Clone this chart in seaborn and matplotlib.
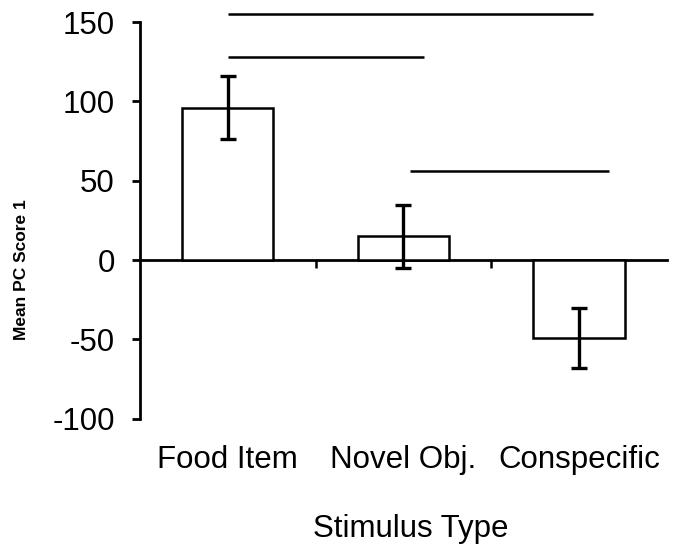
import pandas as pd
import matplotlib
matplotlib.use("Agg")
import matplotlib.pyplot as plt
import seaborn as sns

sns.set_style("white")
plt.rcParams['font.family'] = ['Liberation Sans', 'DejaVu Sans']
plt.rcParams['axes.unicode_minus'] = False
plt.rcParams['text.color'] = 'black'
plt.rcParams['axes.labelcolor'] = 'black'
plt.rcParams['xtick.color'] = 'black'
plt.rcParams['ytick.color'] = 'black'

# Dados
categories = ["Food Item", "Novel Obj.", "Conspecific"]
means = [96, 15, -49]
errors = [20, 20, 19]

# Linhas de significância (y, x inicial, x final em unidades de categoria)
sig_y = [155, 128, 56]
sig_start = [0.0, 0.0, 1.04]
sig_end = [2.08, 1.12, 2.17]

df = pd.DataFrame({"stimulus": categories, "score": means})

fig = plt.figure(figsize=(6.82, 5.51), dpi=100)
ax = fig.add_axes([0.205, 0.240, 0.773, 0.720])

sns.barplot(data=df, x="stimulus", y="score", color="white", saturation=1,
            edgecolor="black", linewidth=1.8, width=0.52, ax=ax)
ax.errorbar(range(len(categories)), means, yerr=errors, fmt="none",
            ecolor="black", elinewidth=2.4, capsize=6, capthick=2.4)

for y, x0, x1 in zip(sig_y, sig_start, sig_end):
    ax.hlines(y, x0, x1, color="black", linewidth=1.8, clip_on=False)

ymin, ymax = -100, 150
ax.set_ylim(ymin, ymax)
ax.set_xlim(-0.5, 2.5)
ax.set_yticks([-100, -50, 0, 50, 100, 150])

# Eixos estilo Excel
for s in ["top", "right", "bottom"]:
    ax.spines[s].set_visible(False)
ax.spines["left"].set_linewidth(2)
ax.spines["left"].set_color("black")
ax.tick_params(axis="y", direction="out", length=6, width=2, pad=12,
               labelsize=22.5, left=True, color="black")
ax.tick_params(axis="x", length=0, pad=19, labelsize=22.5)

# Linha do zero com marcas entre categorias
zero_pos = (0 - ymin) / (ymax - ymin)
sec = ax.secondary_xaxis(zero_pos)
sec.set_xticks([0.5, 1.5])
sec.tick_params(direction="out", length=6, width=1.8, labelbottom=False,
                color="black")
sec.spines["bottom"].set_linewidth(2)
sec.spines["bottom"].set_color("black")

ax.set_xlabel("Stimulus Type", fontsize=22.5)
ax.set_ylabel("Mean PC Score 1", fontsize=12.5, fontweight="bold")
ax.xaxis.set_label_coords(0.514, -0.24)
ax.yaxis.set_label_coords(-0.21, 0.375)

fig.savefig("out.png", dpi=100)
